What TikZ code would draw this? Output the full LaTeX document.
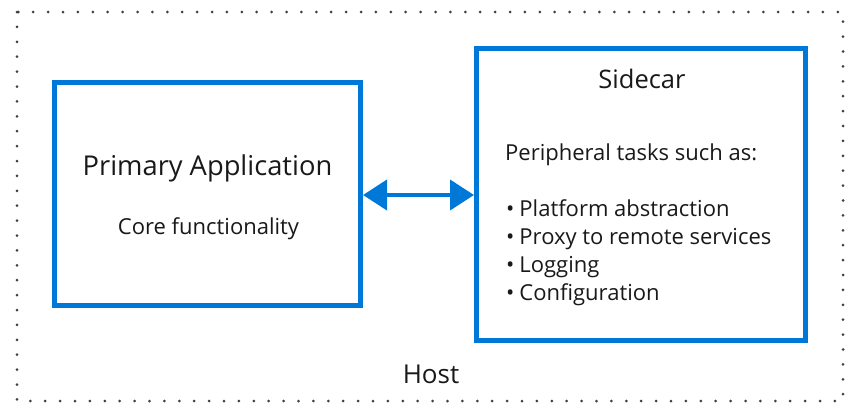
\documentclass[tikz,border=0pt]{standalone}
\usepackage{fontspec}
\setmainfont{Open Sans}
\usetikzlibrary{arrows.meta}
\definecolor{msblue}{HTML}{0078D7}
\definecolor{dotgray}{HTML}{404040}
\tikzset{
  box/.style={draw=msblue, line width=5pt, fill=white, outer sep=0pt},
  hostborder/.style={draw=dotgray, line width=3pt, line cap=round, dash pattern=on 0pt off 14.9pt},
  txt/.style={inner sep=0pt, text=black!90, font=\fontsize{22}{28}\selectfont},
  title/.style={inner sep=0pt, text=black!90, font=\fontsize{27.3}{28}\selectfont},
  link/.style={draw=msblue, line width=4pt, {Triangle[length=24pt,width=30pt]}-{Triangle[length=24pt,width=30pt]}, shorten <=2.5pt, shorten >=2.5pt}
}
\begin{document}
\begin{tikzpicture}[x=1pt,y=-1pt]
\useasboundingbox (0,0) rectangle (850,416);
\draw[hostborder] (17,12) rectangle (843,401);
\node[box, minimum width=306pt, minimum height=223pt, anchor=north west] (primary) at (54.5,82.5) {};
\node[box, minimum width=329pt, minimum height=292pt, anchor=north west] (sidecar) at (476.5,48.5) {};
\draw[link] (primary.east |- 0,195) coordinate (a) -- (sidecar.west |- 0,195) coordinate (b);
\node[title] (ptitle) at (207.5,168) {Primary Application};
\node[txt] (pcore) at (208.5,229) {Core functionality};
\node[font=\fontsize{25.5}{28}\selectfont, inner sep=0pt, text=black!90] (stitle) at (642,79) {Sidecar};
\node[txt, anchor=west] (periph) at (505,155) {Peripheral tasks such as:};
\node[txt, anchor=north west, align=left] (tasks) at (506,199) {\textbullet\hspace{5pt}Platform abstraction\\ \textbullet\hspace{5pt}Proxy to remote services\\ \textbullet\hspace{5pt}Logging\\ \textbullet\hspace{5pt}Configuration};
\node[font=\fontsize{26}{28}\selectfont, inner sep=0pt, text=black!90] (host) at (431,374) {Host};
\end{tikzpicture}
\end{document}
